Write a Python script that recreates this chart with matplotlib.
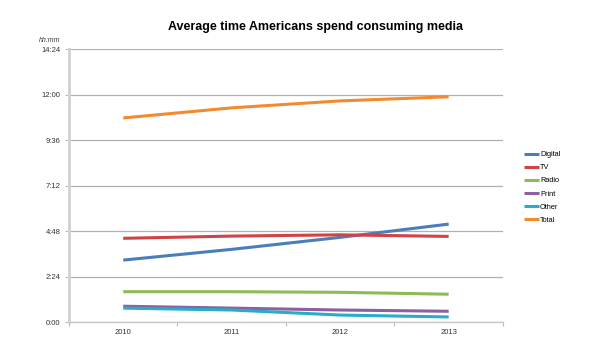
import matplotlib
matplotlib.use('Agg')
import matplotlib.pyplot as plt
from matplotlib.ticker import FixedLocator, FuncFormatter

years = ['2010', '2011', '2012', '2013']
# minutes per day
digital = [196, 230, 268, 310]
tv = [265, 272, 276, 271]
radio = [96, 96, 94, 88]
printed = [50, 44, 38, 34]
other = [44, 38, 22, 16]
total = [646, 678, 700, 713]

series = [('Digital', digital, '#4a7ebb'),
          ('TV', tv, '#cf4346'),
          ('Radio', radio, '#8dbb53'),
          ('Print', printed, '#8d5fa4'),
          ('Other', other, '#27adc6'),
          ('Total', total, '#f28a30')]

plt.rcParams['font.family'] = ['Liberation Sans', 'DejaVu Sans']

fig = plt.figure(figsize=(5.96, 3.61), dpi=100)
ax = fig.add_axes([0.1158, 0.108, 0.728, 0.756])

x = [0.5, 1.5, 2.5, 3.5]
for name, vals, c in series:
    ax.plot(x, vals, color=c, lw=2.2, label=name, solid_capstyle='butt')

ax.set_xlim(0, 4)
ax.set_ylim(0, 864)
ax.yaxis.set_major_locator(FixedLocator([0, 144, 288, 432, 576, 720, 864]))
ax.yaxis.set_major_formatter(FuncFormatter(lambda v, p: '%d:%02d' % (int(v) // 60, int(v) % 60)))
ax.set_xticks([0, 1, 2, 3, 4])
ax.set_xticklabels([])
ax.set_xticks(x, minor=True)
ax.set_xticklabels(years, minor=True)
ax.tick_params(axis='x', which='minor', length=0, pad=5, labelsize=5.5, colors='#333333')
ax.tick_params(axis='x', which='major', length=3, color='#bbbbbb', direction='out')
ax.tick_params(axis='y', length=3, color='#bbbbbb', labelsize=5.5, labelcolor='#333333', pad=3)

ax.grid(axis='y', color='#b0b0b0', lw=0.9)
ax.set_axisbelow(True)
for s in ['top', 'right']:
    ax.spines[s].set_visible(False)
ax.spines['left'].set_color('#d0d0d0')
ax.spines['left'].set_linewidth(2)
ax.spines['bottom'].set_color('#c8c8c8')
ax.spines['bottom'].set_linewidth(1)

ax.text(-0.045, 1.02, 'hh:mm', transform=ax.transAxes, fontsize=5, style='italic',
        color='#333333', ha='center', va='bottom')

fig.text(0.530, 0.925, 'Average time Americans spend consuming media', ha='center',
         va='center', fontsize=9, fontweight='bold')

fig.legend(loc='upper left', bbox_to_anchor=(0.875, 0.59), frameon=False, fontsize=5.3,
           handlelength=2.0, handletextpad=0.1, labelspacing=0.82, borderaxespad=0)

fig.savefig('out.png', dpi=100)
